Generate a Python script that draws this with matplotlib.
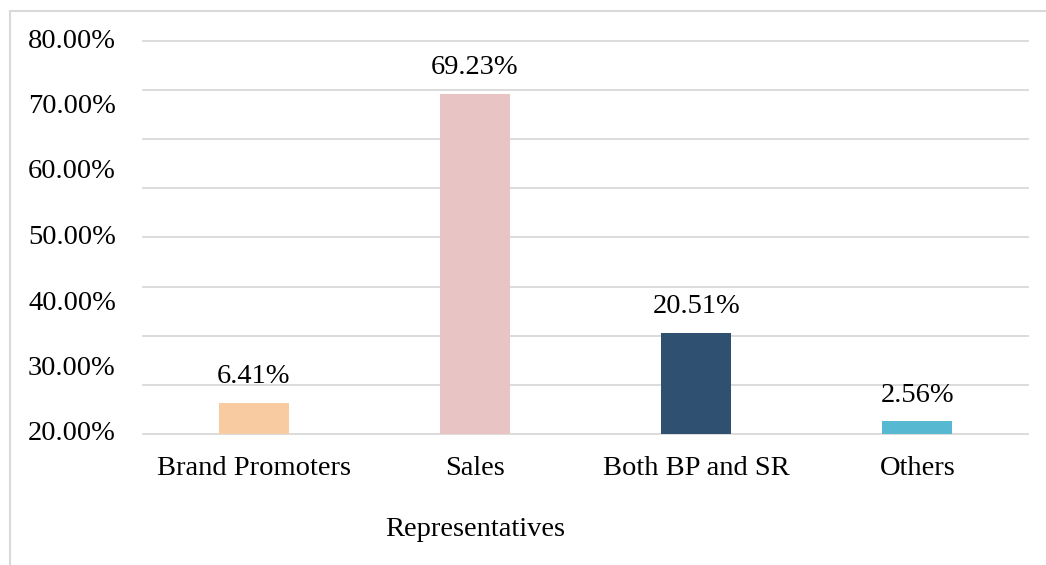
import numpy as np
import matplotlib
matplotlib.use("Agg")
import matplotlib.pyplot as plt
from matplotlib.lines import Line2D
from matplotlib.transforms import ScaledTranslation

# Data
categories = ["Brand Promoters", "Sales", "Both BP and SR", "Others"]
values = [6.41, 69.23, 20.51, 2.56]
colors = ["#F8CBA0", "#E9C4C4", "#2F5070", "#57B9D1"]
ytick_labels = ["20.00%", "30.00%", "40.00%", "50.00%", "60.00%", "70.00%", "80.00%"]

plt.rcParams["font.family"] = ["Liberation Serif", "DejaVu Serif"]
FS = 20.5
W, H = 1046, 565
fig = plt.figure(figsize=(W / 100, H / 100), dpi=100)
ax = fig.add_axes([143 / W, 1 - 434 / H, (1028 - 143) / W, (434 - 41) / H])

x = np.arange(len(categories))
ax.bar(x, values, width=0.316, color=colors, zorder=3)
for xi, v in zip(x, values):
    ax.annotate(f"{v:.2f}%", (xi, v), xytext=(0, 19), textcoords="offset points",
                ha="center", va="center", fontsize=FS)

ax.set_xlim(-0.5, len(categories) - 0.5)
ax.set_ylim(0, 80)

# gridlines every 10, labels spread evenly (as in the reference)
for g in np.arange(0, 81, 10):
    ax.axhline(g, color="#D9D9D9", linewidth=1.3, zorder=0, clip_on=False)
ax.set_yticks(np.linspace(0, 80, len(ytick_labels)))
ax.set_yticklabels(ytick_labels, fontsize=FS, ha="left")
ax.tick_params(axis="y", length=0, pad=(143 - 28) * 0.72)
shift = ScaledTranslation(0, 3 / 100, fig.dpi_scale_trans)
for lbl in ax.get_yticklabels():
    lbl.set_transform(lbl.get_transform() + shift)
ax.set_xticks(x)
ax.set_xticklabels(categories, fontsize=FS)
ax.tick_params(axis="x", length=0, pad=16)
for s in ax.spines.values():
    s.set_visible(False)

fig.text(475 / W, 1 - 530 / H, "Representatives", ha="center", va="center", fontsize=FS)

# outer light border (left and top edges visible)
fig.add_artist(Line2D([10 / W, 10 / W], [0, 1 - 11 / H], transform=fig.transFigure,
                      color="#D9D9D9", linewidth=1.5))
fig.add_artist(Line2D([10 / W, 1], [1 - 11 / H, 1 - 11 / H], transform=fig.transFigure,
                      color="#D9D9D9", linewidth=1.5))

fig.savefig("out.png", dpi=100)
plt.close(fig)
